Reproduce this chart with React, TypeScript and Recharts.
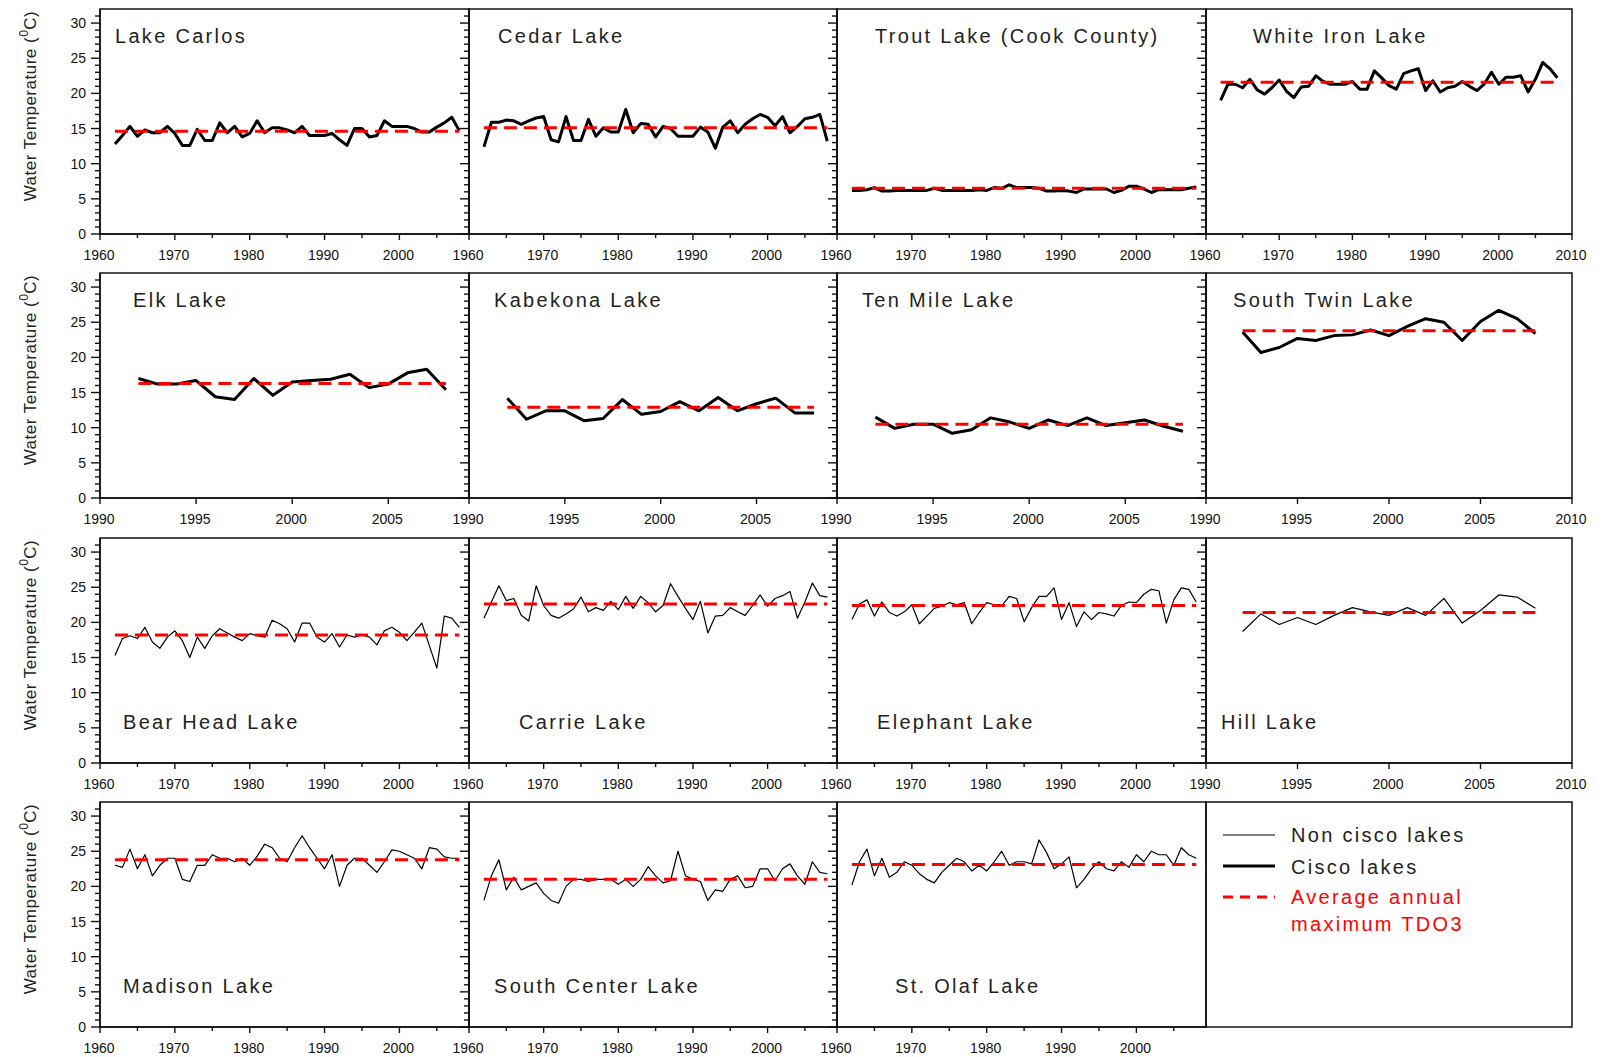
import React from 'react';
import { LineChart, Line, XAxis, YAxis, ReferenceArea } from 'recharts';

// sampling years
const fullYears = [
  1962, 1963, 1964, 1965, 1966, 1967, 1968, 1969, 1970, 1971,
  1972, 1973, 1974, 1975, 1976, 1977, 1978, 1979, 1980, 1981,
  1982, 1983, 1984, 1985, 1986, 1987, 1988, 1989, 1990, 1991,
  1992, 1993, 1994, 1995, 1996, 1997, 1998, 1999, 2000, 2001,
  2002, 2003, 2004, 2005, 2006, 2007, 2008,
];
const recentYears = [
  1992, 1993, 1994, 1995, 1996, 1997, 1998, 1999, 2000, 2001,
  2002, 2003, 2004, 2005, 2006, 2007, 2008,
];

// cisco lakes (1962-2008)
const lakeCarlos = [
  12.8, 14.0, 15.3, 13.9, 14.8, 14.4, 14.4, 15.3, 14.3, 12.6,
  12.6, 14.9, 13.3, 13.3, 15.8, 14.4, 15.3, 13.8, 14.3, 16.1,
  14.4, 15.1, 15.1, 14.8, 14.4, 15.3, 14.0, 14.0, 14.0, 14.3,
  13.4, 12.6, 15.0, 15.0, 13.8, 14.0, 16.1, 15.3, 15.3, 15.3,
  15.0, 14.5, 14.5, 15.2, 15.8, 16.6, 14.7,
];
const cedarLake = [
  12.4, 15.9, 15.9, 16.2, 16.1, 15.6, 16.1, 16.5, 16.7, 13.4,
  13.1, 16.7, 13.3, 13.3, 16.3, 13.9, 15.1, 14.5, 14.5, 17.7,
  14.4, 15.7, 15.6, 13.8, 15.3, 15.0, 13.9, 13.9, 13.9, 15.2,
  14.5, 12.2, 15.2, 16.1, 14.4, 15.6, 16.4, 17.0, 16.6, 15.4,
  16.7, 14.4, 15.3, 16.4, 16.6, 17.0, 13.2,
];
const troutLake = [
  6.2, 6.2, 6.3, 6.6, 6.1, 6.1, 6.2, 6.2, 6.2, 6.2,
  6.2, 6.5, 6.2, 6.2, 6.2, 6.2, 6.2, 6.3, 6.2, 6.6,
  6.5, 7.0, 6.6, 6.6, 6.6, 6.5, 6.1, 6.1, 6.2, 6.1,
  5.9, 6.4, 6.4, 6.4, 6.4, 5.9, 6.2, 6.8, 6.8, 6.4,
  5.9, 6.3, 6.3, 6.3, 6.3, 6.5, 6.7,
];
const whiteIronLake = [
  19.0, 21.3, 21.3, 20.8, 22.0, 20.5, 19.9, 20.8, 21.9, 20.3,
  19.4, 20.9, 21.0, 22.5, 21.7, 21.3, 21.3, 21.3, 21.7, 20.6,
  20.6, 23.2, 22.2, 21.1, 20.6, 22.8, 23.2, 23.5, 20.4, 21.8,
  20.2, 20.8, 21.0, 21.7, 21.0, 20.4, 21.3, 23.0, 21.3, 22.3,
  22.3, 22.5, 20.2, 22.0, 24.4, 23.5, 22.2,
];

// cisco lakes (1992-2008)
const elkLake = [17.0, 16.2, 16.2, 16.7, 14.4, 14.0, 17.0, 14.6, 16.5, 16.7, 16.9, 17.6, 15.7, 16.2, 17.8, 18.3, 15.4];
const kabekonaLake = [14.2, 11.2, 12.4, 12.4, 11.0, 11.3, 14.0, 11.9, 12.3, 13.7, 12.4, 14.3, 12.4, 13.4, 14.2, 12.1, 12.1];
const tenMileLake = [11.5, 9.9, 10.5, 10.5, 9.2, 9.7, 11.4, 10.8, 9.9, 11.1, 10.3, 11.4, 10.3, 10.7, 11.1, 10.2, 9.5];
const southTwinLake = [23.6, 20.7, 21.4, 22.7, 22.4, 23.1, 23.2, 23.9, 23.1, 24.4, 25.5, 25.0, 22.4, 25.1, 26.7, 25.5, 23.4];

// non cisco lakes
const bearHeadLake = [
  15.3, 17.7, 18.1, 17.7, 19.3, 17.2, 16.3, 17.9, 18.8, 17.4,
  15.0, 17.9, 16.3, 18.1, 19.1, 18.5, 17.9, 17.4, 18.4, 18.1,
  17.9, 20.3, 19.8, 19.1, 17.2, 19.9, 19.9, 17.9, 17.2, 18.4,
  16.5, 18.2, 17.9, 18.2, 17.9, 16.8, 18.8, 19.3, 18.6, 17.4,
  18.6, 19.9, 16.7, 13.5, 20.9, 20.6, 19.3,
];
const carrieLake = [
  20.6, 22.9, 25.2, 23.1, 23.4, 21.0, 20.2, 25.2, 22.4, 21.0,
  20.6, 21.2, 21.9, 23.6, 21.5, 22.1, 21.7, 23.0, 21.8, 23.7,
  22.0, 23.7, 22.8, 21.5, 22.4, 25.5, 23.7, 22.0, 20.4, 23.0,
  18.5, 20.9, 21.0, 22.1, 21.5, 21.0, 22.4, 23.9, 22.3, 23.4,
  23.8, 24.4, 20.6, 22.9, 25.6, 23.8, 23.6,
];
const elephantLake = [
  20.4, 22.6, 23.2, 20.9, 22.9, 21.4, 20.9, 21.5, 22.5, 19.8,
  20.9, 22.0, 22.3, 22.8, 22.5, 22.8, 19.8, 21.4, 22.8, 22.5,
  22.3, 23.7, 23.4, 20.1, 22.1, 23.7, 23.7, 24.9, 20.4, 22.8,
  19.4, 21.5, 20.4, 21.4, 21.2, 20.9, 22.4, 22.9, 22.8, 24.0,
  24.7, 24.5, 19.9, 23.2, 24.9, 24.7, 22.9,
];
const hillLake = [18.7, 21.2, 19.7, 20.7, 19.7, 21.0, 22.1, 21.5, 21.0, 22.1, 21.0, 23.4, 19.9, 21.7, 23.9, 23.6, 22.0];
const madisonLake = [
  23.0, 22.7, 25.3, 22.5, 24.5, 21.5, 23.0, 24.0, 24.0, 21.0,
  20.7, 23.0, 23.0, 24.5, 24.0, 24.0, 23.5, 24.0, 23.0, 24.3,
  26.0, 25.5, 24.0, 23.5, 25.5, 27.2, 25.5, 24.0, 22.5, 24.5,
  20.0, 23.0, 24.0, 24.0, 23.0, 22.0, 23.5, 25.2, 25.0, 24.5,
  24.0, 22.5, 25.5, 25.3, 24.2, 24.0, 24.0,
];
const southCenterLake = [
  18.0, 21.5, 23.8, 19.5, 21.3, 19.5, 20.0, 20.5, 19.0, 18.0,
  17.6, 20.0, 21.0, 21.0, 20.7, 21.0, 21.0, 21.0, 20.3, 21.0,
  20.0, 21.0, 22.8, 21.5, 20.5, 20.8, 25.0, 21.5, 21.0, 20.7,
  18.0, 19.5, 19.3, 21.0, 21.5, 19.8, 20.0, 22.5, 22.5, 20.8,
  22.5, 23.2, 21.5, 20.3, 23.5, 22.0, 21.8,
];
const stOlafLake = [
  20.2, 23.5, 25.3, 21.5, 24.0, 21.3, 22.0, 23.5, 23.0, 21.8,
  21.0, 20.5, 22.0, 23.0, 24.0, 23.5, 22.2, 23.0, 22.2, 23.5,
  25.0, 23.0, 23.5, 23.5, 23.2, 26.6, 24.8, 22.5, 23.2, 24.2,
  19.8, 21.0, 22.5, 23.5, 22.5, 22.2, 23.5, 22.7, 24.5, 23.5,
  25.0, 24.5, 24.5, 23.0, 25.5, 24.5, 24.0,
];

const lakeNames = [
  'Lake Carlos', 'Cedar Lake', 'Trout Lake (Cook County)', 'White Iron Lake',
  'Elk Lake', 'Kabekona Lake', 'Ten Mile Lake', 'South Twin Lake',
  'Bear Head Lake', 'Carrie Lake', 'Elephant Lake', 'Hill Lake',
  'Madison Lake', 'South Center Lake', 'St. Olaf Lake',
];
// average annual maximum TDO3 per lake, same order as lakeNames
const avgMaxTdo3 = [14.6, 15.1, 6.5, 21.6, 16.3, 12.9, 10.5, 23.8, 18.2, 22.6, 22.4, 21.4, 23.8, 21.0, 23.1];

const tempTicks = [0, 1, 2, 3, 4, 5, 6, 7, 8, 9, 10, 11, 12, 13, 14, 15, 16, 17, 18, 19, 20, 21, 22, 23, 24, 25, 26, 27, 28, 29, 30, 31];
const longTicks = [1960, 1965, 1970, 1975, 1980, 1985, 1990, 1995, 2000, 2005, 2010];
const shortTicks = [1990, 1995, 2000, 2005, 2010];

const lakeSeries = [
  lakeCarlos, cedarLake, troutLake, whiteIronLake,
  elkLake, kabekonaLake, tenMileLake, southTwinLake,
  bearHeadLake, carrieLake, elephantLake, hillLake,
  madisonLake, southCenterLake, stOlafLake,
];

// layout
const INK = '#111';
const FONT = '"Liberation Sans", Arial, sans-serif';
const COL_LEFT = [100, 469, 837, 1206];
const COL_RIGHT = [469, 837, 1206, 1572];
const ROW_TOP = [9, 273, 538, 802];
const PLOT_H = 225;
const AXIS_W = 100;
const AXIS_H = 40;
const PAD_TOP = 10;
const PAD_R = 30;
const TITLE_DX = [15, 29, 38, 47, 33, 25, 25, 27, 23, 50, 40, 15, 23, 25, 58];

function makeYTick(showLabel: boolean) {
  return (props: any) => {
    const { x, y, payload } = props;
    const v = payload.value;
    const major = v % 5 === 0;
    return (
      <g>
        <line x1={x - (major ? 9 : 5)} x2={x} y1={y} y2={y} stroke={INK} strokeWidth={1.4} />
        {showLabel && major && (
          <text x={x - 14} y={y + 5} textAnchor="end" fontSize={14} fill={INK} fontFamily={FONT}>
            {v}
          </text>
        )}
      </g>
    );
  };
}

function makeXTick(majorStep: number) {
  return (props: any) => {
    const { x, y, payload } = props;
    const v = payload.value;
    const major = v % majorStep === 0;
    return (
      <g>
        <line x1={x} x2={x} y1={y} y2={y + (major ? 6 : 4)} stroke={INK} strokeWidth={1.4} />
        {major && (
          <text x={x - 1} y={y + 26} textAnchor="middle" fontSize={14} fill={INK} fontFamily={FONT}>
            {v}
          </text>
        )}
      </g>
    );
  };
}

function LakePanel({ index }: { index: number }) {
  const row = Math.floor(index / 4);
  const col = index % 4;
  const recent = row === 1 || index === 11;
  const years = recent ? recentYears : fullYears;
  const temps = lakeSeries[index];
  const cisco = row < 2;
  const lastCol = col === 3;
  const start = recent ? 1990 : 1960;
  const end = lastCol ? 2010 : recent ? 2009.2 : 2009.3;
  const ticks = (recent ? shortTicks : longTicks).filter((t) => t <= end);
  const plotW = COL_RIGHT[col] - COL_LEFT[col];

  const series = years.map((year, i) => ({ year, t: temps[i] }));
  const avgLine = [
    { year: years[0], t: avgMaxTdo3[index] },
    { year: years[years.length - 1], t: avgMaxTdo3[index] },
  ];

  return (
    <div style={{ position: 'absolute', left: COL_LEFT[col] - AXIS_W, top: ROW_TOP[row] - PAD_TOP }}>
      <LineChart
        width={AXIS_W + plotW + PAD_R}
        height={PAD_TOP + PLOT_H + AXIS_H}
        margin={{ top: PAD_TOP, right: PAD_R, bottom: 0, left: 0 }}
      >
        <XAxis
          type="number"
          dataKey="year"
          domain={[start, end]}
          ticks={ticks}
          interval={0}
          allowDataOverflow
          height={AXIS_H}
          tickLine={false}
          tickSize={0}
          tickMargin={0}
          axisLine={{ stroke: INK, strokeWidth: 1.5 }}
          tick={makeXTick(recent ? 5 : 10)}
        />
        <YAxis
          type="number"
          domain={[0, 32]}
          ticks={tempTicks}
          interval={0}
          allowDataOverflow
          width={AXIS_W}
          tickLine={false}
          tickSize={0}
          tickMargin={0}
          axisLine={{ stroke: INK, strokeWidth: 1.5 }}
          tick={makeYTick(col === 0)}
        />
        <ReferenceArea x1={start} x2={end} y1={0} y2={32} fill="none" stroke={INK} strokeWidth={1.5} ifOverflow="visible" />
        <Line
          data={series}
          dataKey="t"
          type="linear"
          stroke="#000"
          strokeWidth={cisco ? 3 : 1.2}
          strokeLinejoin="round"
          dot={false}
          isAnimationActive={false}
        />
        <Line
          data={avgLine}
          dataKey="t"
          type="linear"
          stroke="#ff0000"
          strokeWidth={3}
          strokeDasharray="13 7"
          dot={false}
          isAnimationActive={false}
        />
      </LineChart>
    </div>
  );
}

function Overlay() {
  const titleStyle = { fontFamily: FONT, fontSize: 20, letterSpacing: 2.3, fill: '#222' };
  const lx = COL_LEFT[3];
  const ly = ROW_TOP[3];
  return (
    <svg width={1602} height={1057} style={{ position: 'absolute', left: 0, top: 0, pointerEvents: 'none' }}>
      {lakeNames.map((name, i) => {
        const row = Math.floor(i / 4);
        const col = i % 4;
        const y = row < 2 ? ROW_TOP[row] + 34 : ROW_TOP[row] + PLOT_H - 34;
        return (
          <text key={name} x={COL_LEFT[col] + TITLE_DX[i]} y={y} {...titleStyle}>
            {name}
          </text>
        );
      })}
      {ROW_TOP.map((top) => (
        <text
          key={top}
          x={36}
          y={top + 97}
          transform={`rotate(-90 36 ${top + 97})`}
          textAnchor="middle"
          fontFamily={FONT}
          fontSize={17}
          letterSpacing={0.5}
          fill="#222"
        >
          Water Temperature (
          <tspan fontSize={12} dy={-8}>0</tspan>
          <tspan dy={8}>C)</tspan>
        </text>
      ))}
      {/* legend panel */}
      <rect x={lx} y={ly} width={COL_RIGHT[3] - lx} height={PLOT_H} fill="none" stroke={INK} strokeWidth={1.5} />
      <line x1={lx + 17} x2={lx + 69} y1={ly + 33} y2={ly + 33} stroke="#000" strokeWidth={1.2} />
      <text x={lx + 85} y={ly + 40} {...titleStyle}>Non cisco lakes</text>
      <line x1={lx + 17} x2={lx + 69} y1={ly + 64} y2={ly + 64} stroke="#000" strokeWidth={3} />
      <text x={lx + 85} y={ly + 72} {...titleStyle}>Cisco lakes</text>
      <line x1={lx + 17} x2={lx + 69} y1={ly + 95} y2={ly + 95} stroke="#ff0000" strokeWidth={3} strokeDasharray="10 7" />
      <text x={lx + 85} y={ly + 102} {...titleStyle} fill="#ff0000">Average annual</text>
      <text x={lx + 85} y={ly + 129} {...titleStyle} fill="#ff0000">maximum TDO3</text>
    </svg>
  );
}

export default function App() {
  return (
    <div style={{ position: 'absolute', left: 0, top: 0, width: 1602, height: 1057, background: '#fff', overflow: 'hidden' }}>
      {lakeNames.map((name, i) => (
        <LakePanel key={name} index={i} />
      ))}
      <Overlay />
    </div>
  );
}
